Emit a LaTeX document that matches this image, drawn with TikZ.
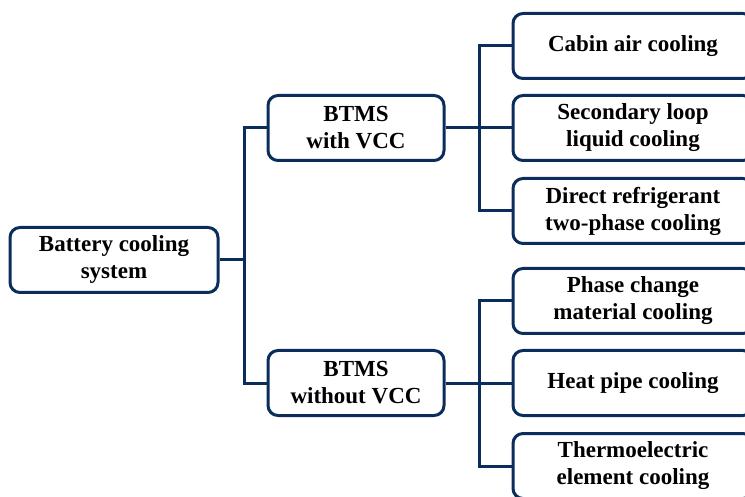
\documentclass[tikz,border=0pt]{standalone}
\usepackage{fontspec}
\setmainfont{Liberation Serif}
\usetikzlibrary{positioning}
\definecolor{marino}{HTML}{0B2D5C}

\begin{document}
\begin{tikzpicture}[x=1pt, y=-1pt,
      coolbox/.style={draw=marino, line width=3pt, rounded corners=10pt, fill=white, align=center,
        font=\fontsize{23}{27}\selectfont\bfseries, inner sep=0pt, minimum height=65pt},
      link/.style={draw=marino, line width=3pt}
    ]
      \useasboundingbox (0,0) rectangle (745,497);
      \node[coolbox, minimum width=208pt] (root) at (114,260) {Battery cooling\\system};
      \node[coolbox, minimum width=176pt] (vcc) at (356,128) {BTMS\\with VCC};
      \node[coolbox, minimum width=176pt] (novcc) at (356,383) {BTMS\\without VCC};
      \node[coolbox, minimum width=240pt] (cabin) at (633,46) {Cabin air cooling};
      \node[coolbox, minimum width=240pt] (loop) at (633,128) {Secondary loop\\liquid cooling};
      \node[coolbox, minimum width=240pt] (direct) at (633,211) {Direct refrigerant\\two-phase cooling};
      \node[coolbox, minimum width=240pt] (pcm) at (633,301) {Phase change\\material cooling};
      \node[coolbox, minimum width=240pt] (pipe) at (633,383) {Heat pipe cooling};
      \node[coolbox, minimum width=240pt] (thermo) at (633,466) {Thermoelectric\\element cooling};
      \draw[link] (root.east) -- ++(25,0) |- (vcc.west);
      \draw[link] (root.east) -- ++(25,0) |- (novcc.west);
      \draw[link] (vcc.east) -- ++(34,0) |- (cabin.west);
      \draw[link] (vcc.east) -- (loop.west);
      \draw[link] (vcc.east) -- ++(34,0) |- (direct.west);
      \draw[link] (novcc.east) -- ++(34,0) |- (pcm.west);
      \draw[link] (novcc.east) -- (pipe.west);
      \draw[link] (novcc.east) -- ++(34,0) |- (thermo.west);
    \end{tikzpicture}
\end{document}
